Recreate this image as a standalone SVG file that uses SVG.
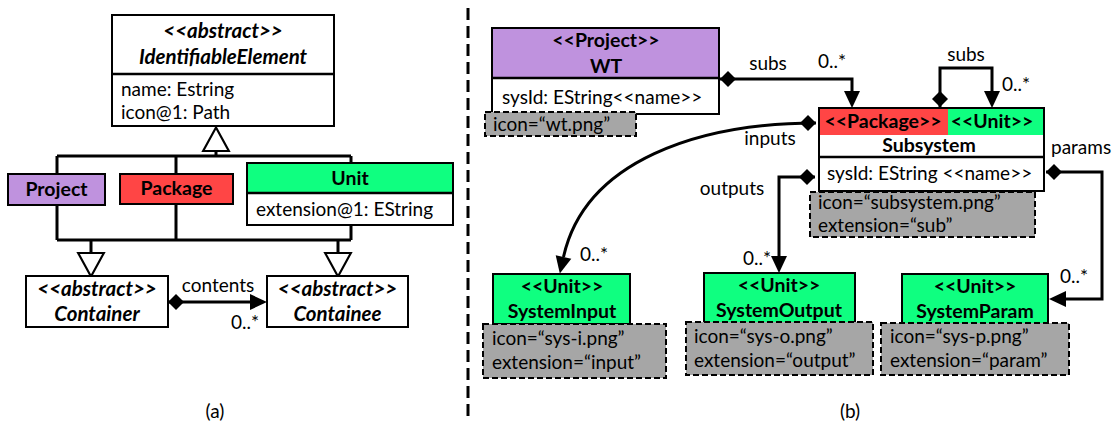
<svg xmlns="http://www.w3.org/2000/svg" width="1113" height="426" viewBox="0 0 1113 426">
  <style>
    text { font-family: Lato, "Open Sans", "Liberation Sans", sans-serif; font-size: 19px; fill: #000; }
    .b { font-weight: bold; font-size: 19.5px; }
    .bi { font-weight: bold; font-style: italic; font-size: 20.5px; }
    .c { text-anchor: middle; }
    .box { fill: #fff; stroke: #000; stroke-width: 2; }
    .div { stroke: #000; stroke-width: 2.5; fill: none; }
    .purple { fill: #BF92DE; }
    .red { fill: #FF4545; }
    .green { fill: #0FFF80; }
    .note { fill: #A6A6A6; stroke: #000; stroke-width: 2; stroke-dasharray: 6 3; }
    .edge { fill: none; stroke: #000; stroke-width: 3; }
    .gen { fill: none; stroke: #000; stroke-width: 3; }
  </style>
  <defs>
    <!-- filled arrowhead: path ends at the arrow base -->
    <marker id="arrow" markerUnits="userSpaceOnUse" markerWidth="20" markerHeight="20" viewBox="-1 -10 20 20" refX="0" refY="0" orient="auto" overflow="visible">
      <path d="M17,0 L0,-8 L0,8 Z" fill="#000"/>
    </marker>
    <!-- composition diamond at the owning end -->
    <marker id="diamond" markerUnits="userSpaceOnUse" markerWidth="20" markerHeight="20" viewBox="-1 -10 20 20" refX="0" refY="0" orient="auto" overflow="visible">
      <path d="M0,0 L8,-8 L16,0 L8,8 Z" fill="#000"/>
    </marker>
    <!-- hollow generalization triangle: path ends at the base -->
    <marker id="tri" markerUnits="userSpaceOnUse" markerWidth="30" markerHeight="30" viewBox="-2 -14 28 28" refX="0" refY="0" orient="auto" overflow="visible">
      <path d="M22,0 L0,-12 L0,12 Z" fill="#fff" stroke="#000" stroke-width="2"/>
    </marker>
  </defs>

  <!-- ===== (a) metamodel ===== -->
  <g id="a-connectors">
    <!-- generalization tree -->
    <path class="gen" d="M57,156 H351 M57,156 V240 M176,156 V240 M351,156 V240 M57,240 H351"/>
    <path class="gen" d="M216,156 V151" marker-end="url(#tri)"/>
    <path class="gen" d="M91,240 V253" marker-end="url(#tri)"/>
    <path class="gen" d="M338,240 V253" marker-end="url(#tri)"/>
    <!-- contents composition -->
    <path class="edge" d="M168,302 H250" marker-start="url(#diamond)" marker-end="url(#arrow)"/>
    <text x="218" y="292" class="c">contents</text>
    <text x="231" y="329">0..*</text>
  </g>

  <g id="identifiable-element">
    <rect class="box" x="112" y="15" width="222" height="111"/>
    <line class="div" x1="112" y1="74" x2="334" y2="74"/>
    <text x="223" y="38" class="bi c">&lt;&lt;abstract&gt;&gt;</text>
    <text x="223" y="64" class="bi c">IdentifiableElement</text>
    <text x="121" y="96">name: Estring</text>
    <text x="121" y="119">icon@1: Path</text>
  </g>

  <g id="project">
    <rect class="box purple" x="8" y="174" width="97" height="31"/>
    <text x="56.5" y="196" class="b c">Project</text>
  </g>

  <g id="package">
    <rect class="box red" x="120" y="174" width="113" height="30"/>
    <text x="176.5" y="195" class="b c">Package</text>
  </g>

  <g id="unit">
    <rect class="box" x="247" y="163" width="206" height="62"/>
    <rect class="green" x="248" y="164" width="204" height="29"/>
    <line class="div" x1="247" y1="193" x2="453" y2="193"/>
    <text x="350" y="185" class="b c">Unit</text>
    <text x="256" y="216">extension@1: EString</text>
  </g>

  <g id="container">
    <rect class="box" x="26" y="276" width="142" height="51"/>
    <text x="97" y="296" class="bi c">&lt;&lt;abstract&gt;&gt;</text>
    <text x="97" y="321" class="bi c">Container</text>
  </g>

  <g id="containee">
    <rect class="box" x="267" y="276" width="141" height="51"/>
    <text x="337.5" y="296" class="bi c">&lt;&lt;abstract&gt;&gt;</text>
    <text x="337.5" y="321" class="bi c">Containee</text>
  </g>

  <text x="215" y="418" class="c">(a)</text>

  <!-- panel separator -->
  <line x1="468" y1="8" x2="468" y2="418" stroke="#000" stroke-width="3" stroke-dasharray="12 6"/>

  <!-- ===== (b) model ===== -->
  <g id="b-connectors">
    <!-- WT subs -> Subsystem -->
    <path class="edge" d="M720,79 H852 V91" marker-start="url(#diamond)" marker-end="url(#arrow)"/>
    <text x="768" y="70" class="c">subs</text>
    <text x="818" y="68">0..*</text>
    <!-- Subsystem self subs -->
    <path class="edge" d="M940,107 V68 H992 V91" marker-start="url(#diamond)" marker-end="url(#arrow)"/>
    <text x="966" y="61" class="c">subs</text>
    <text x="1002" y="91">0..*</text>
    <!-- inputs -->
    <path class="edge" d="M816,123 C700,123 585,160 563.5,257" marker-start="url(#diamond)" marker-end="url(#arrow)"/>
    <text x="770" y="145" class="c">inputs</text>
    <text x="580" y="261">0..*</text>
    <!-- outputs -->
    <path class="edge" d="M815,177 H779 V256" marker-start="url(#diamond)" marker-end="url(#arrow)"/>
    <text x="732" y="195" class="c">outputs</text>
    <text x="743" y="265">0..*</text>
    <!-- params -->
    <path class="edge" d="M1046,172 H1102 V299 H1066" marker-start="url(#diamond)" marker-end="url(#arrow)"/>
    <text x="1051" y="154">params</text>
    <text x="1060" y="283">0..*</text>
  </g>

  <g id="wt">
    <rect class="box" x="492" y="28" width="227" height="86"/>
    <rect class="purple" x="493" y="29" width="225" height="49"/>
    <line class="div" x1="492" y1="78" x2="719" y2="78"/>
    <text x="606" y="47" class="b c">&lt;&lt;Project&gt;&gt;</text>
    <text x="606" y="73" class="b c">WT</text>
    <text x="502" y="104">sysId: EString&lt;&lt;name&gt;&gt;</text>
    <rect class="note" x="485" y="112" width="151" height="24"/>
    <text x="493" y="131">icon=“wt.png”</text>
  </g>

  <g id="subsystem">
    <rect class="box" x="819" y="108" width="225" height="83"/>
    <rect class="red" x="820" y="109" width="128" height="26"/>
    <rect class="green" x="948" y="109" width="95" height="26"/>
    <line class="div" x1="819" y1="157" x2="1044" y2="157"/>
    <text x="883" y="128" class="b c">&lt;&lt;Package&gt;&gt;</text>
    <text x="992" y="128" class="b c">&lt;&lt;Unit&gt;&gt;</text>
    <text x="929" y="152" class="b c">Subsystem</text>
    <text x="827" y="180">sysId: EString &lt;&lt;name&gt;&gt;</text>
    <rect class="note" x="810" y="192" width="225" height="45"/>
    <text x="818" y="209">icon=“subsystem.png”</text>
    <text x="818" y="232">extension=“sub”</text>
  </g>

  <g id="system-input">
    <rect class="box green" x="493" y="274" width="137" height="50"/>
    <text x="562" y="293" class="b c">&lt;&lt;Unit&gt;&gt;</text>
    <text x="562" y="318" class="b c">SystemInput</text>
    <rect class="note" x="483" y="324" width="183" height="54"/>
    <text x="492" y="345">icon=“sys-i.png”</text>
    <text x="492" y="369">extension=“input”</text>
  </g>

  <g id="system-output">
    <rect class="box green" x="704" y="273" width="151" height="50"/>
    <text x="779" y="292" class="b c">&lt;&lt;Unit&gt;&gt;</text>
    <text x="779" y="317" class="b c">SystemOutput</text>
    <rect class="note" x="686" y="322" width="187" height="53"/>
    <text x="694" y="343">icon=“sys-o.png”</text>
    <text x="694" y="367">extension=“output”</text>
  </g>

  <g id="system-param">
    <rect class="box green" x="902" y="274" width="146" height="50"/>
    <text x="975" y="293" class="b c">&lt;&lt;Unit&gt;&gt;</text>
    <text x="975" y="318" class="b c">SystemParam</text>
    <rect class="note" x="881" y="323" width="188" height="52"/>
    <text x="890" y="343">icon=“sys-p.png”</text>
    <text x="890" y="367">extension=“param”</text>
  </g>

  <text x="850" y="418" class="c">(b)</text>
</svg>
